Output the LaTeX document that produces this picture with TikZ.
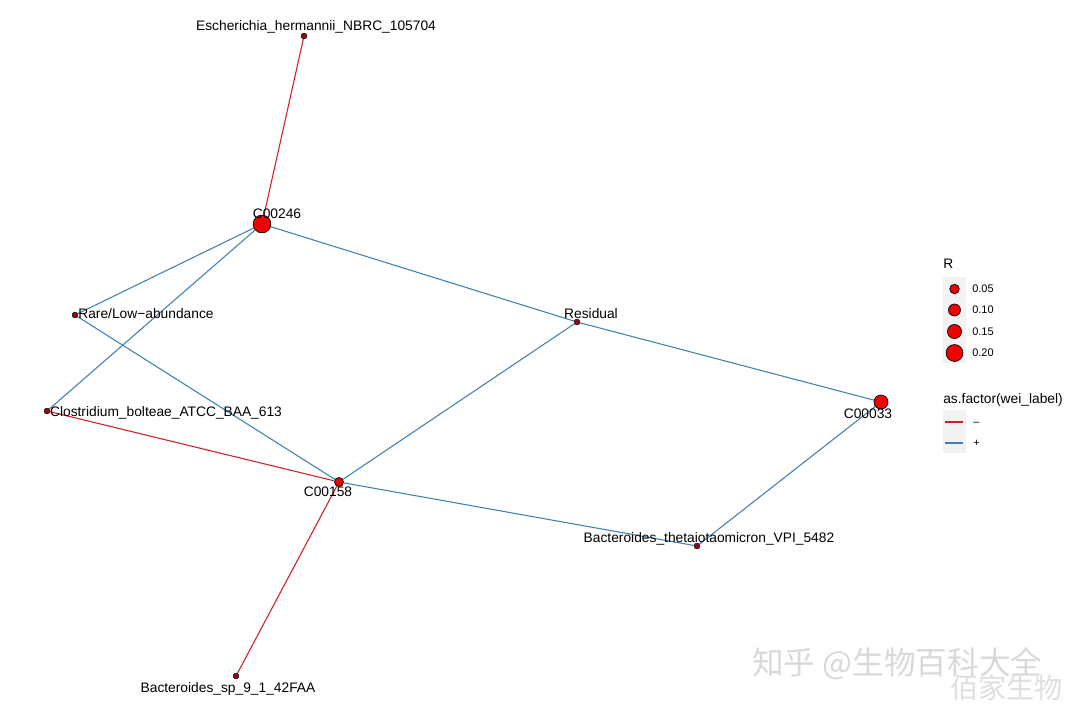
\documentclass[tikz,border=0pt]{standalone}
\usepackage{fontspec}
\setmainfont{Liberation Sans}
\newfontfamily\cjk{Noto Sans CJK SC}
\usetikzlibrary{positioning}
\definecolor{negred}{RGB}{203,32,38}
\definecolor{posblue}{RGB}{62,128,178}
\definecolor{nodered}{RGB}{240,0,0}
\definecolor{smalldot}{RGB}{140,10,20}
\definecolor{keygray}{RGB}{242,242,242}

\begin{document}
\begin{tikzpicture}[x=0.025cm,y=-0.025cm,
dot/.style={circle,draw=black,fill=nodered,line width=.5pt,inner sep=0pt},
tiny/.style={circle,draw=black,fill=smalldot,line width=.3pt,inner sep=0pt,minimum size=4.2pt},
lbl/.style={anchor=base,inner sep=0pt,font=\fontsize{9.8}{11}\selectfont},
negline/.style={draw=negred,line width=.75pt},
posline/.style={draw=posblue,line width=.75pt},
leg/.style={anchor=base west,inner sep=0pt,font=\fontsize{7.8}{9}\selectfont}]
\useasboundingbox[fill=white] (0,0) rectangle (1071,712);
% nodes
\node[tiny] (esch) at (304,36) {};
\node[dot,minimum size=12.6pt] (c246) at (262,224) {};
\node[tiny] (rare) at (75,315) {};
\node[tiny] (resid) at (577,322) {};
\node[tiny] (clos) at (47,411) {};
\node[dot,minimum size=6.4pt] (c158) at (339,482) {};
\node[dot,minimum size=10pt] (c033) at (881,402) {};
\node[tiny] (theta) at (697,546) {};
\node[tiny] (bsp) at (236,676) {};
% edges
\draw[negline] (esch)--(c246);
\draw[posline] (c246)--(rare);
\draw[posline] (c246)--(clos);
\draw[posline] (c246)--(resid);
\draw[posline] (resid)--(c033);
\draw[posline] (rare)--(c158);
\draw[negline] (clos)--(c158);
\draw[posline] (resid)--(c158);
\draw[posline] (c158)--(theta);
\draw[posline] (theta)--(c033);
\draw[negline] (c158)--(bsp);
% labels
\node[lbl] (eschL) at (316,30) {Escherichia\_hermannii\_NBRC\_105704};
\node[lbl] (c246L) at (277,218) {C00246};
\node[lbl] (rareL) at (146,318) {Rare/Low\char"2212abundance};
\node[lbl] (residL) at (591,318) {Residual};
\node[lbl] (closL) at (166,416) {Clostridium\_bolteae\_ATCC\_BAA\_613};
\node[lbl] (c158L) at (328,496) {C00158};
\node[lbl] (c033L) at (868,418) {C00033};
\node[lbl] (thetaL) at (709,542) {Bacteroides\_thetaiotaomicron\_VPI\_5482};
\node[lbl] (bspL) at (228,692) {Bacteroides\_sp\_9\_1\_42FAA};
% legend R
\node[anchor=base west,inner sep=0pt,font=\fontsize{9.8}{11}\selectfont] (rT) at (943,268) {R};
\fill[keygray] (943,277) rectangle (966,363);
\node[dot,minimum size=6.8pt] (k1) at (954.5,289) {};
\node[dot,minimum size=8.5pt] (k2) at (954.5,310) {};
\node[dot,minimum size=10pt] (k3) at (954.5,331.5) {};
\node[dot,minimum size=12pt] (k4) at (954.5,353) {};
\node[leg] (k1L) at (972,292.5) {0.05};
\node[leg] (k2L) at (972,313.5) {0.10};
\node[leg] (k3L) at (972,335) {0.15};
\node[leg] (k4L) at (972,356.5) {0.20};
% legend sign
\node[anchor=base west,inner sep=0pt,font=\fontsize{9.8}{11}\selectfont] (sT) at (943,403) {as.factor(wei\_label)};
\fill[keygray] (943,410) rectangle (966,453);
\coordinate (m1) at (945,422); \coordinate (m2) at (963,422);
\coordinate (p1) at (945,443); \coordinate (p2) at (963,443);
\draw[negline] (m1)--(m2);
\draw[posline] (p1)--(p2);
\node[leg] (mL) at (973,425) {\char"2013};
\node[leg] (pL) at (973,446) {+};
% watermark
\node[anchor=base west,inner sep=0pt,text=gray!30,font=\cjk\fontsize{22.5}{25}\selectfont] (wm1) at (752,674) {知乎 @生物百科大全};
\node[anchor=base west,inner sep=0pt,text=gray!25,font=\cjk\fontsize{20}{22}\selectfont] (wm2) at (950,698) {佰家生物};
\end{tikzpicture}
\end{document}
